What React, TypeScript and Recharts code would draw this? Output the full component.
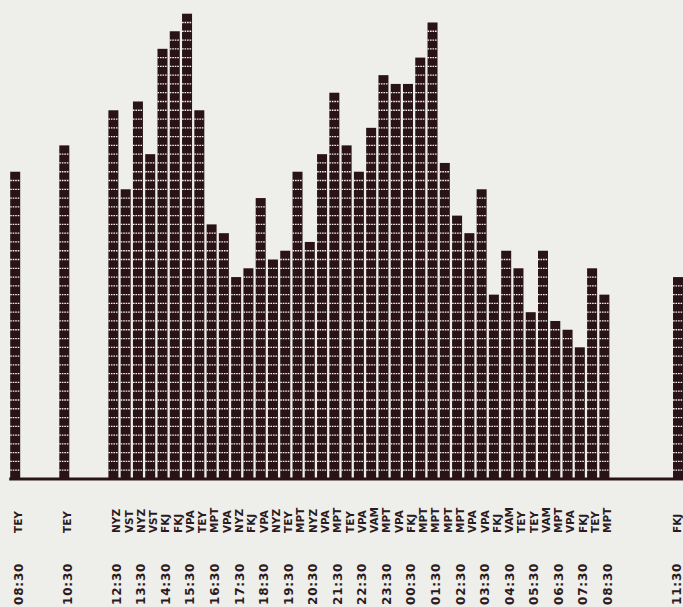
import { Bar, BarChart, XAxis, YAxis } from "recharts";

// half-hour slots, 08:30 one day to 11:30 the next
const SLOTS = [
  "08:30", "09:00", "09:30", "10:00", "10:30", "11:00", "11:30", "12:00",
  "12:30", "13:00", "13:30", "14:00", "14:30", "15:00", "15:30", "16:00",
  "16:30", "17:00", "17:30", "18:00", "18:30", "19:00", "19:30", "20:00",
  "20:30", "21:00", "21:30", "22:00", "22:30", "23:00", "23:30", "00:00",
  "00:30", "01:00", "01:30", "02:00", "02:30", "03:00", "03:30", "04:00",
  "04:30", "05:00", "05:30", "06:00", "06:30", "07:00", "07:30", "08:00",
  "08:30", "09:00", "09:30", "10:00", "10:30", "11:00", "11:30",
];

const COUNTS = [
  35, 0, 0, 0, 38, 0, 0, 0,
  42, 33, 43, 37, 49, 51, 53, 42,
  29, 28, 23, 24, 32, 25, 26, 35,
  27, 37, 44, 38, 35, 40, 46, 45,
  45, 48, 52, 36, 30, 28, 33, 21,
  26, 24, 19, 26, 18, 17, 15, 24,
  21, 0, 0, 0, 0, 0, 23,
];

const CODES = [
  "TEY", "", "", "", "TEY", "", "", "",
  "NYZ", "VST", "NYZ", "VST", "FKJ", "FKJ", "VPA", "TEY",
  "MPT", "VPA", "NYZ", "FKJ", "VPA", "NYZ", "TEY", "MPT",
  "NYZ", "VPA", "MPT", "TEY", "VPA", "VAM", "MPT", "VPA",
  "FKJ", "MPT", "MPT", "MPT", "MPT", "VPA", "VPA", "FKJ",
  "VAM", "TEY", "TEY", "VAM", "MPT", "VPA", "FKJ", "TEY",
  "MPT", "", "", "", "", "", "FKJ",
];

const INK = "#2a1317";
const TEXT = "#2b1a20";
const PAPER = "#eeeeeb";

const data = SLOTS.map((slot, i) => ({ slot, count: COUNTS[i], code: CODES[i] }));

document.documentElement.style.overflow = "hidden";

function BlockBar(props: any) {
  const { x, y, width, height, payload } = props;
  const n = payload.count;
  if (!n || height <= 0) return null;
  const rowH = height / n;
  const lines = [];
  for (let k = 1; k < n; k++) {
    const ly = y + k * rowH;
    lines.push(
      <line key={k} x1={x} x2={x + width} y1={ly} y2={ly}
        stroke="#f3eff0" strokeWidth={1.3} strokeDasharray="1.6 0.9" />
    );
  }
  return (
    <g>
      <rect x={x} y={y} width={width} height={height} fill={INK} />
      {lines}
    </g>
  );
}

function SlotTick(props: any) {
  const { payload } = props;
  const i = payload.index ?? props.index;
  const code = CODES[i];
  if (!code) return null;
  const slot = SLOTS[i];
  // labels sit a little right of the bar, but stay inside the page
  const x = Math.min(props.x + 3, 677);
  return (
    <g fill={TEXT} fontFamily="'DejaVu Sans', sans-serif" fontWeight="bold">
      <text x={x} y={533} dy="0.36em" fontSize={10.5} transform={`rotate(-90 ${x} 533)`}>
        {code}
      </text>
      {slot.endsWith(":30") && (
        <text x={x} y={605} dy="0.36em" fontSize={12} letterSpacing={0.8}
          transform={`rotate(-90 ${x} 605)`}>
          {slot}
        </text>
      )}
    </g>
  );
}

export default function App() {
  return (
    <div style={{ position: "fixed", left: 0, top: 0, width: 683, height: 607, background: PAPER, overflow: "hidden" }}>
      <BarChart
        width={685}
        height={607}
        data={data}
        margin={{ top: 13.7, right: 0.7, bottom: 0, left: 9.2 }}
      >
        <XAxis
          dataKey="slot"
          interval={0}
          height={128}
          tickLine={false}
          axisLine={{ stroke: INK, strokeWidth: 3 }}
          tick={<SlotTick />}
        />
        <YAxis hide domain={[0, 53]} />
        <Bar dataKey="count" barSize={10} shape={<BlockBar />} isAnimationActive={false} />
      </BarChart>
    </div>
  );
}
